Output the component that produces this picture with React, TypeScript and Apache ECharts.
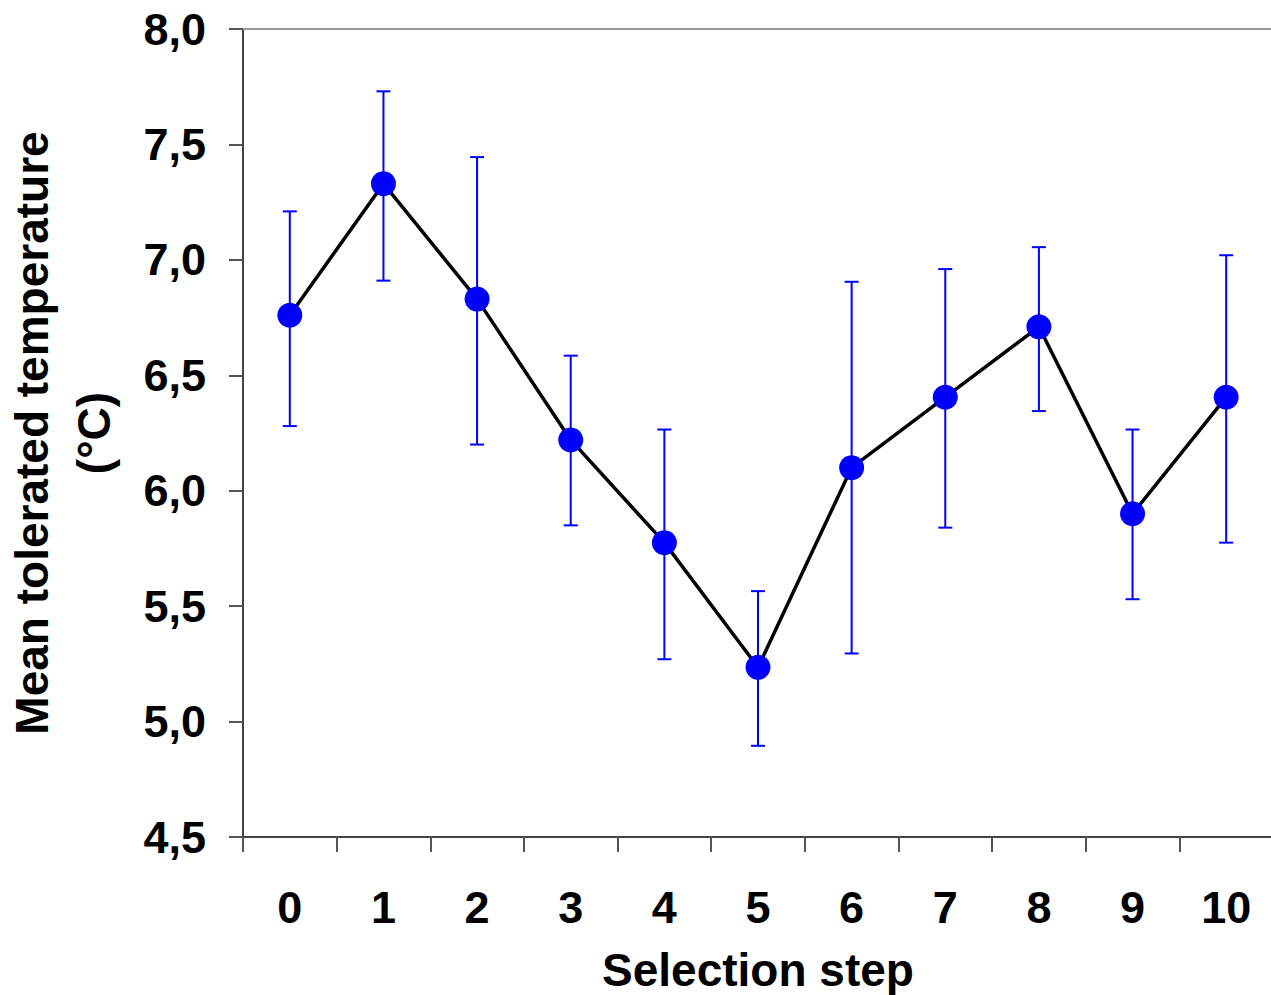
import React, { useEffect, useRef } from "react";
import * as echarts from "echarts";

const steps = ["0", "1", "2", "3", "4", "5", "6", "7", "8", "9", "10"];
const means = [6.76, 7.33, 6.83, 6.22, 5.775, 5.235, 6.1, 6.405, 6.71, 5.9, 6.405];
const upper = [7.21, 7.73, 7.445, 6.585, 6.265, 5.565, 6.905, 6.96, 7.055, 6.265, 7.02];
const lower = [6.28, 6.91, 6.2, 5.85, 5.27, 4.895, 5.295, 5.84, 6.345, 5.53, 5.775];

const FONT = "'Liberation Sans', Arial, sans-serif";

export default function App() {
  const ref = useRef<HTMLDivElement>(null);
  useEffect(() => {
    const chart = echarts.init(ref.current!, null, { renderer: "svg" });
    const errData = steps.map((_, i) => [i, lower[i], upper[i]]);
    chart.setOption({
      animation: false,
      backgroundColor: "#ffffff",
      grid: {
        left: 243,
        top: 29,
        right: -2,
        bottom: 158,
        containLabel: false,
        outerBoundsMode: "none",
      },
      xAxis: [
        {
          type: "category",
          data: steps,
          boundaryGap: true,
          name: "Selection step",
          nameLocation: "middle",
          nameGap: 110,
          nameTextStyle: { fontFamily: FONT, fontWeight: "bold", fontSize: 46, color: "#000" },
          axisLine: { show: true, lineStyle: { color: "#444", width: 2 } },
          axisTick: { show: true, length: 15, inside: false, lineStyle: { color: "#555", width: 2 } },
          axisLabel: { fontFamily: FONT, fontWeight: "bold", fontSize: 45, color: "#000", margin: 48 },
          splitLine: { show: false },
        },
        {
          type: "category",
          data: steps,
          position: "top",
          axisLine: { show: true, lineStyle: { color: "#9a9a9a", width: 2 } },
          axisTick: { show: false },
          axisLabel: { show: false },
          splitLine: { show: false },
        },
      ],
      yAxis: {
        type: "value",
        min: 4.5,
        max: 8,
        interval: 0.5,
        name: "Mean tolerated temperature\n(°C)",
        nameLocation: "middle",
        nameRotate: 90,
        nameGap: 118,
        nameTextStyle: { fontFamily: FONT, fontWeight: "bold", fontSize: 46, color: "#000", lineHeight: 62 },
        axisLine: { show: true, lineStyle: { color: "#444", width: 2 } },
        axisTick: { show: true, length: 14, inside: false, lineStyle: { color: "#555", width: 2 } },
        axisLabel: {
          fontFamily: FONT,
          fontWeight: "bold",
          fontSize: 45,
          color: "#000",
          margin: 37,
          formatter: (v: number) => v.toFixed(1).replace(".", ","),
        },
        splitLine: { show: false },
      },
      series: [
        {
          type: "custom",
          xAxisIndex: 0,
          data: errData,
          z: 1,
          renderItem: (params: any, api: any) => {
            const x = api.value(0);
            const lo = api.coord([x, api.value(1)]);
            const hi = api.coord([x, api.value(2)]);
            const hw = 7;
            const style = { stroke: "#0000ff", lineWidth: 2 };
            return {
              type: "group",
              children: [
                { type: "line", shape: { x1: hi[0], y1: hi[1], x2: lo[0], y2: lo[1] }, style },
                { type: "line", shape: { x1: hi[0] - hw, y1: hi[1], x2: hi[0] + hw, y2: hi[1] }, style },
                { type: "line", shape: { x1: lo[0] - hw, y1: lo[1], x2: lo[0] + hw, y2: lo[1] }, style },
              ],
            };
          },
        },
        {
          type: "line",
          xAxisIndex: 0,
          data: means,
          z: 3,
          symbol: "circle",
          symbolSize: 25,
          lineStyle: { color: "#000", width: 3.5 },
          itemStyle: { color: "#0000ff", borderWidth: 0 },
        },
      ],
    });
    return () => chart.dispose();
  }, []);
  return (
    <div
      ref={ref}
      style={{ position: "fixed", left: 0, top: 0, width: 1271, height: 995, background: "#fff" }}
    />
  );
}
